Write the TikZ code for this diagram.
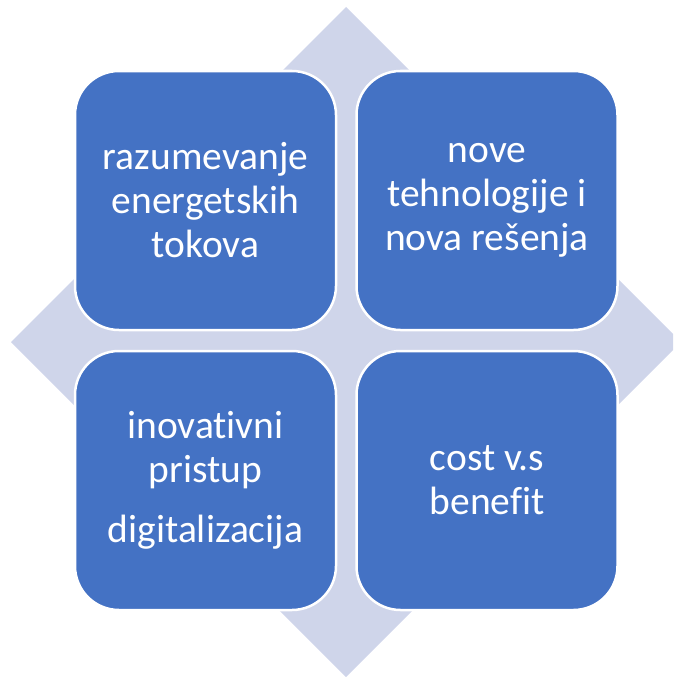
\documentclass[tikz,border=0pt]{standalone}
\usepackage{fontspec}
\setmainfont{Carlito}[Ligatures={NoCommon}]
\definecolor{boxblue}{HTML}{4472C4}
\definecolor{diamondfill}{HTML}{CFD5EA}
\tikzset{
  quad/.style={draw=white, line width=2.5pt, fill=boxblue, rounded corners=44pt,
    minimum width=261pt, minimum height=259pt, inner sep=0pt, text=white,
    align=center, font=\fontsize{39.5}{44}\selectfont}
}
\begin{document}
\begin{tikzpicture}[x=1pt,y=-1pt]
\useasboundingbox (0,0) rectangle (673,677);
\clip (0,0) rectangle (673,677);
\fill[diamondfill] (346,7) -- (681,342) -- (346,677) -- (11,342) -- cycle;
\node[quad] (tl) at (205.5,200.5) {razumevanje\\energetskih\\tokova};
\node[quad] (tr) at (487,200.5) {nove\\tehnologije i\\nova rešenja};
\node[quad] (bl) at (205.5,480.5) {inovativni\\pristup\\[16pt]digitalizacija};
\node[quad] (br) at (487,480.5) {cost v.s\\benefit};
\end{tikzpicture}
\end{document}
